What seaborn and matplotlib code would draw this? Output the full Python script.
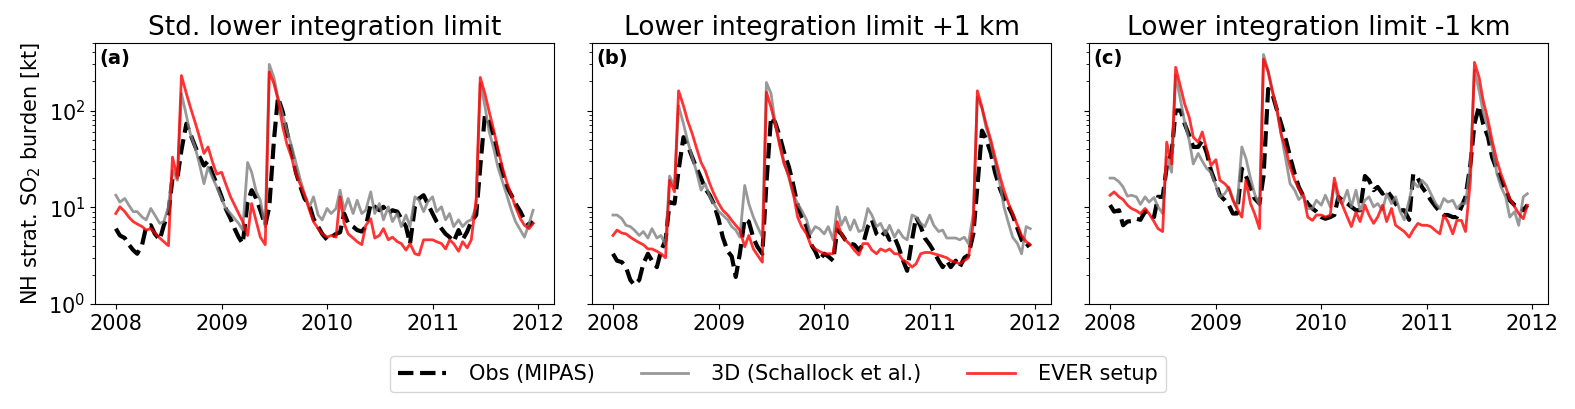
import pandas as pd
import numpy as np
import matplotlib.pyplot as plt
import matplotlib.dates as mdates
import seaborn as sns

# semi-monthly time axis, Jan 2008 - Dec 2011
dates = pd.date_range("2008-01-01", periods=96, freq="SMS")

titles = ["Std. lower integration limit", "Lower integration limit +1 km", "Lower integration limit -1 km"]
panel_tags = ["(a)", "(b)", "(c)"]
labels = ["Obs (MIPAS)", "3D (Schallock et al.)", "EVER setup"]

# ---- panel (a): standard lower limit ----
obs_a = [6.0, 5.1, 4.8, 4.1, 3.6, 3.3, 4.1, 6.3, 6.5, 5.3, 4.6, 6.5, 8.6, 20, 20, 39,
         73, 57, 43, 34, 27, 30, 22, 17.5, 12.8, 9.7, 7.6, 6.0, 4.9, 4.2, 11.3, 15,
         12.3, 9.3, 6.5, 10.1, 49, 137, 96, 60, 37, 23, 16.2, 12.3, 10.5, 7.6, 6.3, 5.3,
         4.6, 4.9, 5.3, 5.5, 8.6, 6.8, 6.3, 5.8, 5.6, 6.3, 10.9, 10.1, 9.3, 10.1, 8.6, 9.3,
         9.0, 7.6, 6.3, 4.2, 10.1, 12.3, 13.3, 10.9, 8.6, 7.1, 6.0, 5.3, 4.9, 4.4, 5.8, 4.6,
         5.6, 7.1, 8.3, 26, 89, 76, 55, 36, 22, 16.2, 13.3, 10.9, 9.0, 7.4, 6.5, 7.1]
mod3d_a = [13.3, 11.3, 12.3, 10.5, 9.0, 9.0, 7.9, 7.4, 9.7, 8.3, 6.8, 7.1, 10.1, 24, 19, 150,
           89, 57, 42, 29, 17.5, 26, 20, 16.2, 12.3, 9.7, 8.6, 7.6, 6.8, 5.8, 29, 23,
           14.4, 11.8, 6.3, 300, 220, 137, 89, 62, 42, 29, 19, 13.8, 10.1, 12.8, 8.3, 7.4,
           9.7, 8.6, 9.7, 15, 9.3, 12.3, 8.6, 11.8, 8.6, 9.3, 14.4, 8.6, 10.9, 7.4, 10.1, 7.1,
           8.6, 6.3, 8.3, 6.3, 12.8, 11.8, 9.0, 11.3, 12.8, 9.0, 10.1, 7.4, 8.6, 6.3, 7.4, 6.3,
           7.1, 7.4, 10.1, 190, 112, 62, 40, 26, 18, 13.3, 9.3, 7.1, 5.8, 4.9, 6.8, 9.3]
ever_a = [8.6, 10.1, 9.0, 7.9, 7.1, 6.7, 6.3, 5.8, 6.0, 5.4, 4.8, 4.4, 4.0, 33, 20, 230,
          150, 108, 76, 55, 36, 42, 29, 22, 23, 17.5, 12.8, 10.5, 8.6, 7.1, 5.1, 10.9,
          7.1, 4.9, 4.1, 250, 190, 130, 67, 45, 32, 22, 17, 13.3, 9.3, 7.1, 6.0, 5.3,
          4.9, 5.1, 4.9, 12.8, 6.8, 5.3, 4.8, 4.4, 4.1, 6.5, 7.6, 4.8, 5.1, 6.0, 4.6, 4.9,
          4.4, 4.2, 3.6, 4.2, 3.3, 3.2, 4.6, 4.6, 4.6, 4.4, 4.2, 3.7, 4.6, 4.2, 3.5, 4.4,
          3.8, 4.6, 12.3, 220, 150, 100, 62, 40, 25, 18, 13.3, 10.1, 7.6, 6.5, 6.0, 6.8]

# ---- panel (b): lower limit +1 km ----
obs_b = [3.3, 2.8, 2.7, 2.4, 1.77, 1.57, 1.77, 2.6, 3.3, 2.8, 2.4, 3.5, 4.6, 11.3, 10.9, 24,
         53, 44, 33, 26, 20, 15.6, 13.3, 10.9, 7.4, 4.9, 3.5, 3.1, 1.9, 3.3, 7.6, 7.1,
         4.8, 3.9, 3.3, 17.5, 86, 76, 53, 37, 26, 17.5, 10.5, 7.9, 6.3, 4.2, 3.5, 2.8,
         3.3, 3.1, 2.8, 5.8, 5.3, 4.6, 4.2, 4.1, 3.6, 4.1, 6.3, 7.4, 5.3, 4.9, 5.6, 4.6,
         4.9, 3.9, 2.8, 2.2, 4.6, 7.9, 6.3, 4.8, 4.1, 3.5, 2.8, 2.4, 2.8, 2.4, 2.8, 2.4,
         3.0, 3.2, 5.3, 16.2, 62, 51, 36, 23, 15.6, 12.3, 10.1, 8.3, 6.0, 4.6, 3.9, 4.2]
mod3d_b = [8.3, 8.3, 7.6, 6.5, 6.3, 5.8, 5.1, 5.6, 4.8, 6.0, 4.8, 5.1, 4.1, 21, 16.2, 112,
           73, 49, 33, 24, 15, 17.5, 12.8, 10.9, 9.0, 8.3, 7.4, 6.3, 5.8, 4.9, 16.8, 10.9,
           7.9, 6.3, 4.9, 195, 150, 76, 45, 30, 20, 13.8, 10.9, 9.3, 7.4, 5.3, 6.3, 6.0,
           5.3, 6.3, 4.6, 10.1, 6.5, 7.9, 5.8, 7.4, 5.6, 5.8, 9.7, 8.3, 6.3, 6.8, 5.3, 6.5,
           4.9, 5.8, 4.9, 4.6, 8.3, 7.9, 6.8, 6.3, 8.3, 6.5, 5.6, 5.8, 4.8, 4.8, 4.8, 4.6,
           4.9, 4.2, 8.6, 137, 105, 67, 45, 30, 17.5, 10.1, 6.8, 4.9, 4.2, 3.3, 6.3, 6.0]
ever_b = [5.1, 5.8, 5.4, 5.3, 4.9, 4.6, 4.3, 4.1, 3.7, 3.7, 3.5, 3.3, 3.0, 19, 14.4, 160,
          112, 79, 58, 42, 29, 24, 17.5, 13.8, 10.9, 9.3, 8.3, 7.3, 6.5, 5.8, 3.9, 5.1,
          3.7, 3.2, 2.7, 155, 108, 73, 42, 28, 21, 14.4, 7.9, 6.3, 5.3, 4.1, 3.7, 3.5,
          3.3, 3.3, 3.3, 7.1, 5.3, 4.6, 4.1, 3.6, 3.2, 4.2, 4.2, 3.6, 3.3, 3.7, 3.5, 3.7,
          3.3, 3.3, 2.8, 2.7, 2.4, 2.6, 3.3, 3.4, 3.4, 3.3, 3.2, 3.1, 3.0, 2.8, 2.7, 2.6,
          2.8, 3.0, 6.8, 160, 108, 73, 49, 33, 21, 15, 10.9, 8.6, 6.5, 5.1, 4.4, 4.1]

# ---- panel (c): lower limit -1 km ----
obs_c = [10.5, 9.0, 9.3, 6.5, 7.1, 7.2, 7.6, 7.4, 9.0, 9.0, 7.9, 12.8, 12.8, 26, 37, 100,
         100, 73, 55, 42, 42, 49, 36, 24, 17.5, 13.3, 11.8, 10.5, 8.6, 8.6, 25, 21,
         16.2, 12.3, 10.9, 21, 167, 150, 100, 73, 49, 33, 22, 16.2, 12.8, 10.9, 9.7, 9.0,
         7.9, 7.6, 7.9, 8.3, 12.8, 11.8, 10.9, 10.1, 9.3, 9.3, 21, 19, 15, 16.2, 13.8, 15,
         12.8, 10.9, 9.3, 9.3, 7.4, 22, 20, 16.2, 13.8, 11.8, 10.1, 9.0, 8.3, 8.3, 7.9, 7.9,
         10.1, 12.8, 28, 73, 112, 73, 53, 33, 24, 19, 15, 11.8, 10.5, 10.1, 9.3, 10.5]
mod3d_c = [20, 20, 18.3, 16.2, 13.0, 13.3, 12.8, 10.7, 12.8, 11.3, 12.6, 10.1, 8.6, 33, 23, 230,
           127, 76, 49, 28, 36, 30, 25, 23, 16.8, 12.8, 13.8, 16.2, 12.3, 9.7, 42, 32,
           20, 13.8, 10.5, 380, 260, 167, 100, 57, 30, 17.5, 15, 12.0, 13.3, 9.7, 9.7, 11.8,
           10.5, 13.3, 10.1, 17.5, 11.8, 10.9, 15, 10.1, 15, 9.3, 11.8, 12.8, 10.1, 10.9, 9.3, 13.8,
           10.9, 12.8, 9.0, 7.4, 11.8, 18.3, 16.2, 19, 16.8, 13.8, 10.9, 9.7, 12.3, 11.3, 11.8, 9.7,
           10.9, 10.9, 28, 260, 160, 96, 65, 42, 22, 16.2, 12.8, 7.9, 9.0, 6.5, 12.8, 13.8]
ever_c = [13.3, 14.4, 12.8, 12.0, 10.5, 9.7, 9.2, 8.6, 9.7, 8.6, 7.1, 6.0, 5.6, 47, 28, 280,
          175, 117, 85, 53, 47, 60, 39, 27, 31, 19, 17.5, 15.6, 11.8, 9.7, 7.9, 19,
          10.9, 8.6, 6.0, 340, 250, 160, 100, 57, 39, 26, 19, 15.6, 12.8, 7.9, 7.3, 8.3,
          8.3, 7.9, 8.3, 20, 13.3, 10.5, 7.9, 6.3, 8.9, 7.1, 10.5, 8.3, 6.8, 7.9, 10.5, 7.1,
          9.7, 6.5, 6.0, 5.6, 4.9, 5.8, 6.8, 6.5, 6.5, 6.3, 5.7, 5.3, 8.3, 7.1, 5.3, 7.3,
          7.3, 5.6, 19, 315, 220, 127, 79, 49, 30, 22, 16.2, 12.3, 10.1, 8.6, 7.6, 10.5]

panels = [(obs_a, mod3d_a, ever_a), (obs_b, mod3d_b, ever_b), (obs_c, mod3d_c, ever_c)]

fig, axes = plt.subplots(1, 3, figsize=(15.75, 4.09), dpi=100, sharey=True)
fig.subplots_adjust(left=0.0603, right=0.983, top=0.895, bottom=0.257, wspace=0.083)

for i, ax in enumerate(axes):
    obs, mod3d, ever = panels[i]
    df = pd.DataFrame({"date": dates, "obs": obs, "mod3d": mod3d, "ever": ever})
    sns.lineplot(data=df, x="date", y="obs", ax=ax, color="black", lw=3,
                 linestyle="--", label=labels[0])
    sns.lineplot(data=df, x="date", y="mod3d", ax=ax, color="grey", alpha=0.8, lw=2,
                 label=labels[1])
    sns.lineplot(data=df, x="date", y="ever", ax=ax, color="red", alpha=0.8, lw=2,
                 label=labels[2])
    ax.get_legend().remove()
    ax.set_yscale("log")
    ax.set_ylim(1, 500)
    ax.set_title(titles[i], fontsize=19)
    ax.text(0.01, 0.975, panel_tags[i], transform=ax.transAxes, fontsize=14,
            fontweight="bold", va="top", ha="left")
    ax.xaxis.set_major_locator(mdates.YearLocator())
    ax.xaxis.set_major_formatter(mdates.DateFormatter("%Y"))
    ax.tick_params(axis="both", which="major", labelsize=15)
    ax.set_xlabel("")
    ax.set_ylabel("")

axes[0].set_ylabel("NH strat. SO$_2$ burden [kt]", fontsize=15)

handles, labs = axes[0].get_legend_handles_labels()
fig.legend(handles, labs, loc="lower center", bbox_to_anchor=(0.494, 0.015), ncol=3,
           fontsize=15, columnspacing=2.2, handlelength=2.3, handletextpad=1.1)

plt.savefig("out.png", dpi=100)
